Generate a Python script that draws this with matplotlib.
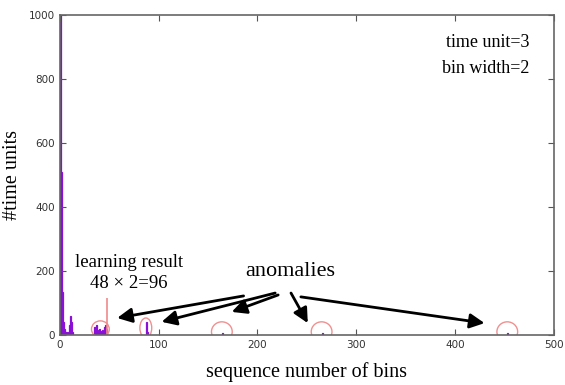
import matplotlib.pyplot as plt
from matplotlib.patches import Ellipse

# histogram of bin counts (bin index -> #time units)
bin_idx = [0, 1, 2, 3, 4, 5, 6, 7, 8, 9, 10, 11, 12,
           35, 36, 37, 38, 39, 40, 41, 42, 43, 44, 45, 46, 47,
           87, 88, 164, 265, 453]
counts = [1000, 510, 135, 40, 20, 10, 8, 5, 10, 30, 60, 40, 10,
          25, 10, 30, 15, 8, 20, 12, 8, 15, 10, 25, 30, 20,
          40, 10, 6, 5, 5]

learning_bin = 48
learning_height = 115

# anomaly circles: (center x, center y, width, height) in data units
anomaly_marks = [(41, 18, 18, 52), (87, 22, 12, 62), (164, 10, 21, 62),
                 (265, 10, 21, 62), (453, 10, 21, 62)]

# arrows from "anomalies" label to targets
arrow_starts = [(186, 122), (218, 131), (221, 125), (234, 131), (244, 119)]
arrow_tips = [(58, 53), (103, 41), (174, 72), (251, 37), (430, 37)]

fig = plt.figure(figsize=(5.65, 3.85), dpi=100)
ax = fig.add_axes([0.106, 0.13, 0.874, 0.831])

ax.bar(bin_idx, counts, width=1.0, align='edge', color='#8a10d8',
       edgecolor='#8a10d8', linewidth=0.9)
ax.vlines(learning_bin, 0, learning_height, color='#f08a8a', linewidth=1.2)

for cx, cy, w, h in anomaly_marks:
    ax.add_patch(Ellipse((cx, cy), w, h, fill=False, edgecolor='#f09090', linewidth=1.0))

for (sx, sy), (tx, ty) in zip(arrow_starts, arrow_tips):
    ax.annotate('', xy=(tx, ty), xytext=(sx, sy),
                arrowprops=dict(arrowstyle='-|>', color='black', lw=2.0,
                                mutation_scale=22, shrinkA=0, shrinkB=0))

serif = 'Liberation Serif'
ax.text(70, 228, 'learning result', ha='center', va='center', fontsize=13.5, family=serif)
ax.text(70, 162, '48 × 2=96', ha='center', va='center', fontsize=13.5, family=serif)
ax.text(233, 199, 'anomalies', ha='center', va='center', fontsize=16, family=serif)
ax.text(475, 915, 'time unit=3', ha='right', va='center', fontsize=13, family=serif)
ax.text(475, 834, 'bin width=2', ha='right', va='center', fontsize=13, family=serif)

ax.set_xlim(0, 500)
ax.set_ylim(0, 1000)
ax.set_xticks([0, 100, 200, 300, 400, 500])
ax.set_yticks([0, 200, 400, 600, 800, 1000])
ax.tick_params(direction='in', top=True, right=True, length=4, labelsize=7.5,
               colors='#555555', labelcolor='#333333')
for s in ax.spines.values():
    s.set_color('#666666')
    s.set_linewidth(1.2)

ax.set_xlabel('sequence number of bins', fontsize=14.5, family=serif, labelpad=9)
ax.set_ylabel('#time units', fontsize=14.5, family=serif, labelpad=5)

fig.savefig('out.png', dpi=100)
